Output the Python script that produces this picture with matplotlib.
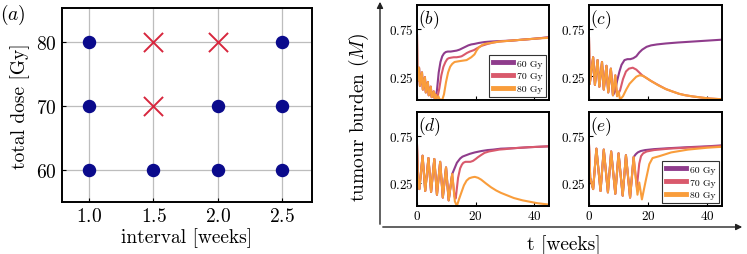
import matplotlib
matplotlib.use("Agg")
import matplotlib.pyplot as plt
from matplotlib.patches import FancyArrowPatch

plt.rcParams["font.family"] = "serif"
plt.rcParams["font.serif"] = ["cmr10", "DejaVu Serif"]
plt.rcParams["mathtext.fontset"] = "cm"
plt.rcParams["axes.formatter.use_mathtext"] = True

# panel (a): outcome grid
ok_interval = [1.0, 1.0, 1.0, 1.5, 2.0, 2.0, 2.5, 2.5, 2.5]
ok_dose = [60, 70, 80, 60, 60, 70, 60, 70, 80]
fail_interval = [1.5, 1.5, 2.0]
fail_dose = [70, 80, 80]

doses = ["60 Gy", "70 Gy", "80 Gy"]
colors = ["#8f3c8c", "#d9596c", "#f99d3b"]

# panel (b), interval 1.0 week
b_head_t = [0, 0.15, 0.7, 1.0, 1.7, 2.0, 2.7, 3.0, 3.7, 4.0, 4.7, 5.0, 5.7, 6.0]
b_head_y = [0.68, 0.2, 0.34, 0.15, 0.29, 0.11, 0.24, 0.08, 0.19, 0.05, 0.14, 0.03, 0.09, 0.02]
b60_t = [6.3, 6.8, 7.4, 8.0, 8.6, 9.2, 9.8, 10.5, 11.5, 12.5, 13.5, 14.5, 15.5, 16.5, 17.5, 18.5, 19.5, 21, 23, 25, 28, 32, 36, 40, 45]
b60_y = [0.02, 0.1, 0.29, 0.40, 0.46, 0.49, 0.505, 0.51, 0.51, 0.515, 0.52, 0.53, 0.545, 0.56, 0.575, 0.585, 0.59, 0.6, 0.61, 0.615, 0.62, 0.625, 0.635, 0.645, 0.66]
b70_t = [6.3, 6.6, 7.0, 7.6, 8.3, 9.0, 9.7, 10.3, 10.8, 11.5, 12.5, 13.5, 14.5, 15.2, 16, 17, 18, 19.4, 20.5, 22, 24, 26, 28, 32, 36, 40, 45]
b70_y = [0.06, 0.02, 0.03, 0.12, 0.26, 0.35, 0.40, 0.43, 0.44, 0.445, 0.45, 0.45, 0.455, 0.46, 0.475, 0.495, 0.51, 0.525, 0.545, 0.57, 0.59, 0.605, 0.615, 0.625, 0.635, 0.645, 0.66]
b80_t = [6.3, 6.6, 7.3, 7.6, 8.6, 9.2, 9.9, 10.6, 11.3, 12, 12.8, 13.7, 14.7, 15.8, 16.9, 17.7, 18.5, 19.6, 20.3, 21, 22, 23, 24, 26, 28, 32, 36, 40, 45]
b80_y = [0.06, 0.015, 0.04, 0.01, 0.0, 0.06, 0.19, 0.29, 0.35, 0.38, 0.40, 0.405, 0.41, 0.415, 0.42, 0.435, 0.45, 0.48, 0.52, 0.55, 0.575, 0.59, 0.595, 0.605, 0.615, 0.625, 0.635, 0.645, 0.655]

# panel (c), interval 1.5 weeks
c_head_t = [0, 0.25, 1.4, 2.0, 2.9, 3.5, 4.4, 5.0, 5.9, 6.5, 7.4, 8.1]
c_head_y = [0.65, 0.17, 0.45, 0.16, 0.42, 0.14, 0.40, 0.11, 0.36, 0.08, 0.33, 0.05]
c60_t = [8.8, 9.5, 10.3, 11, 12, 13, 14, 15, 16, 17, 18, 19.5, 21, 23, 26, 30, 35, 40, 45]
c60_y = [0.09, 0.2, 0.3, 0.37, 0.42, 0.43, 0.43, 0.44, 0.46, 0.5, 0.53, 0.56, 0.575, 0.585, 0.595, 0.605, 0.615, 0.625, 0.635]
c70_t = [8.9, 9.5, 10.5, 11.5, 12.5, 13.5, 14.8, 16, 17, 18, 19.5, 21, 23, 26, 28.2, 30.5, 32.6, 35, 38.2, 41, 45]
c70_y = [0.26, 0.04, 0.1, 0.22, 0.3, 0.33, 0.34, 0.32, 0.29, 0.26, 0.23, 0.2, 0.165, 0.115, 0.09, 0.065, 0.05, 0.038, 0.025, 0.015, 0.008]
c80_t = [8.9, 9.5, 10.0, 10.5, 11.5, 12.6, 13.7, 14.9, 16, 17.1, 18.2, 19.3, 21, 23.7, 26, 28.2, 30.5, 32.6, 35, 38.2, 41, 45]
c80_y = [0.26, 0.04, 0.09, 0.005, 0.04, 0.11, 0.17, 0.21, 0.245, 0.26, 0.255, 0.235, 0.2, 0.15, 0.115, 0.09, 0.065, 0.05, 0.038, 0.025, 0.015, 0.008]

# panel (d), interval 2.0 weeks
d_head_t = [0, 0.3, 0.8, 1.9, 2.8, 3.9, 4.8, 5.9, 6.8, 7.9, 8.8, 9.9, 10.8, 12.0]
d_head_y = [0.65, 0.3, 0.18, 0.535, 0.16, 0.51, 0.15, 0.50, 0.12, 0.47, 0.09, 0.41, 0.06, 0.34]
d60_t = [12.8, 13.6, 14.7, 15.5, 16.3, 18, 19.7, 22, 24.1, 26, 28.6, 33, 38, 45]
d60_y = [0.40, 0.46, 0.505, 0.525, 0.535, 0.555, 0.57, 0.585, 0.595, 0.60, 0.61, 0.615, 0.625, 0.635]
d70_t = [12.8, 13.2, 14, 14.7, 15.3, 15.8, 16.5, 17.4, 18.2, 19.1, 20, 20.8, 22, 23, 24.5, 26.3, 28, 30, 33, 38, 45]
d70_y = [0.1, 0.08, 0.3, 0.40, 0.44, 0.46, 0.47, 0.47, 0.47, 0.48, 0.50, 0.52, 0.545, 0.565, 0.58, 0.59, 0.60, 0.605, 0.615, 0.625, 0.635]
d80_t = [12.9, 13.6, 14.3, 15.2, 16, 16.9, 17.8, 18.8, 19.7, 20.8, 21.9, 23.5, 25.2, 27, 28.6, 31, 33, 36, 38.5, 41, 45]
d80_y = [0.05, 0.0, 0.07, 0.15, 0.22, 0.27, 0.295, 0.305, 0.31, 0.30, 0.28, 0.24, 0.20, 0.165, 0.14, 0.11, 0.085, 0.06, 0.045, 0.03, 0.015]

# panel (e), interval 2.5 weeks
e_head_t = [0, 0.4, 1.4, 2.5, 3.9, 5.0, 6.4, 7.5, 8.9, 10.0, 11.4, 12.5, 13.9, 15.1]
e_head_y = [0.65, 0.3, 0.18, 0.61, 0.16, 0.60, 0.145, 0.58, 0.13, 0.56, 0.11, 0.54, 0.09, 0.52]
e60_t = [15.8, 16.5, 17.5, 19, 22, 27, 33, 40, 45]
e60_y = [0.55, 0.57, 0.585, 0.595, 0.605, 0.615, 0.625, 0.635, 0.645]
e70_t = [16.2, 17.0, 17.6, 18.3, 19.5, 22, 27, 33, 40, 45]
e70_y = [0.2, 0.45, 0.53, 0.56, 0.58, 0.595, 0.61, 0.62, 0.63, 0.64]
e80_t = [16.4, 17.0, 17.9, 19.2, 20.4, 21.5, 23.8, 27.8, 33.5, 40, 45]
e80_y = [0.12, 0.25, 0.07, 0.27, 0.445, 0.51, 0.53, 0.57, 0.60, 0.62, 0.63]

panels = [
    ("b", b_head_t, b_head_y, [(b60_t, b60_y), (b70_t, b70_y), (b80_t, b80_y)]),
    ("c", c_head_t, c_head_y, [(c60_t, c60_y), (c70_t, c70_y), (c80_t, c80_y)]),
    ("d", d_head_t, d_head_y, [(d60_t, d60_y), (d70_t, d70_y), (d80_t, d80_y)]),
    ("e", e_head_t, e_head_y, [(e60_t, e60_y), (e70_t, e70_y), (e80_t, e80_y)]),
]

W, H = 747, 255


def box(left, top, right, bottom):
    return [left / W, 1 - bottom / H, (right - left) / W, (bottom - top) / H]


def style_spines(ax):
    for s in ax.spines.values():
        s.set_linewidth(1.4)
    ax.tick_params(direction="in", width=0.8)


def main():
    fig = plt.figure(figsize=(7.47, 2.55), dpi=100)

    # (a)
    ax = fig.add_axes(box(62, 9, 312, 203))
    ax.scatter(ok_interval, ok_dose, s=75, color="#0a0a8c", zorder=3)
    ax.scatter(fail_interval, fail_dose, s=190, marker="x", color="#d7263d", linewidths=1.4, zorder=3)
    ax.set_xlim(0.79, 2.73)
    ax.set_ylim(55, 85.3)
    ax.set_xticks([1.0, 1.5, 2.0, 2.5])
    ax.set_yticks([60, 70, 80])
    ax.grid(True, color="#bdbdbd", lw=0.9)
    ax.set_axisbelow(True)
    style_spines(ax)
    ax.tick_params(labelsize=14, length=3)
    ax.set_xlabel("interval [weeks]", fontsize=14, labelpad=2)
    ax.set_ylabel("total dose [Gy]", fontsize=14, labelpad=5)
    fig.text(0.0, 0.99, "$(a)$", fontsize=14, ha="left", va="top")

    boxes = {
        "b": box(417, 6, 549, 101),
        "c": box(589, 6, 722, 101),
        "d": box(417, 113, 549, 207),
        "e": box(589, 113, 722, 207),
    }
    for name, ht, hy, tails in panels:
        ax = fig.add_axes(boxes[name])
        for (tt, yy), lab, col in zip(tails, doses, colors):
            ax.plot(ht + tt, hy + yy, color=col, lw=1.5, label=lab)
        ax.set_xlim(0, 45)
        ax.set_ylim(0, 1.0)
        ax.set_yticks([0.25, 0.75])
        ax.set_xticks([0, 20, 40])
        style_spines(ax)
        ax.tick_params(labelsize=9.5, length=3, pad=2)
        if name in ("b", "c"):
            ax.set_xticklabels([])
        ax.text(0.01, 0.98, "$(%s)$" % name, transform=ax.transAxes, fontsize=12.5, ha="left", va="top")
        if name in ("b", "e"):
            leg = ax.legend(loc="lower right", fontsize=7, handlelength=2.0, handletextpad=0.4,
                            borderpad=0.4, labelspacing=0.4, fancybox=False, framealpha=1,
                            edgecolor="#333333", borderaxespad=0.3)
            leg.get_frame().set_linewidth(0.8)
            for ln in leg.get_lines():
                ln.set_linewidth(3.5)

    # outer arrows
    x0, y0 = 380 / W, 1 - 228 / H
    fig.add_artist(FancyArrowPatch((x0, y0), (x0, 1.0), transform=fig.transFigure,
                                   arrowstyle="-|>", mutation_scale=9, lw=1.0, color="#222222"))
    fig.add_artist(FancyArrowPatch((x0, y0), (745 / W, y0), transform=fig.transFigure,
                                   arrowstyle="-|>", mutation_scale=9, lw=1.0, color="#222222"))
    fig.text(359 / W, 0.54, "tumour burden $(M)$", rotation=90, fontsize=14, ha="center", va="center")
    fig.text(564 / W, 1 - 245 / H, "t [weeks]", fontsize=14, ha="center", va="center")

    fig.savefig("out.png", dpi=100)


if __name__ == "__main__":
    main()
